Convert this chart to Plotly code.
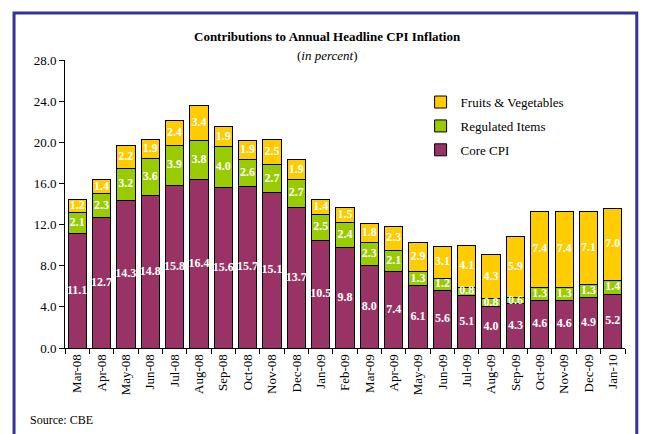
import plotly.graph_objects as go

months = ["Mar-08","Apr-08","May-08","Jun-08","Jul-08","Aug-08","Sep-08","Oct-08","Nov-08","Dec-08",
          "Jan-09","Feb-09","Mar-09","Apr-09","May-09","Jun-09","Jul-09","Aug-09","Sep-09","Oct-09",
          "Nov-09","Dec-09","Jan-10"]
core = [11.1,12.7,14.3,14.8,15.8,16.4,15.6,15.7,15.1,13.7,10.5,9.8,8.0,7.4,6.1,5.6,5.1,4.0,4.3,4.6,4.6,4.9,5.2]
regulated = [2.1,2.3,3.2,3.6,3.9,3.8,4.0,2.6,2.7,2.7,2.5,2.4,2.3,2.1,1.3,1.2,0.8,0.8,0.6,1.3,1.3,1.3,1.4]
fruits = [1.2,1.4,2.2,1.9,2.4,3.4,1.9,1.9,2.5,1.9,1.4,1.5,1.8,2.3,2.9,3.1,4.1,4.3,5.9,7.4,7.4,7.1,7.0]
y_ticks = [0, 4, 8, 12, 16, 20, 24, 28]

FONT = "Liberation Serif"
series = [("Core CPI", core, "#993366", 3),
          ("Regulated Items", regulated, "#99CC00", 2),
          ("Fruits & Vegetables", fruits, "#FFCC00", 1)]

fig = go.Figure()
base = [0.0] * len(months)
label_traces = []
for name, vals, color, rank in series:
    fig.add_trace(go.Bar(x=months, y=vals, name=name, marker_color=color, legendgroup=name,
                         legendrank=rank, marker_line_color="black", marker_line_width=1))
    mids = [b + v / 2 for b, v in zip(base, vals)]
    label_traces.append(go.Scatter(x=months, y=mids, mode="text",
                                   text=[f"{v:.1f}" for v in vals],
                                   textfont=dict(family=FONT, size=12, color="white", weight="bold"),
                                   showlegend=False, hoverinfo="skip"))
    base = [b + v for b, v in zip(base, vals)]
for t in label_traces:
    fig.add_trace(t)

fig.update_layout(
    width=645, height=434,
    margin=dict(l=65, r=20, t=60, b=86, autoexpand=False),
    barmode="stack", bargap=0.25,
    plot_bgcolor="white", paper_bgcolor="white",
    font=dict(family=FONT, size=13, color="black"),
    showlegend=True,
    legend=dict(x=0.635, y=0.906, xanchor="left", yanchor="top",
                traceorder="grouped", font=dict(family=FONT, size=13),
                bgcolor="rgba(0,0,0,0)", itemwidth=30, tracegroupgap=4),
    xaxis=dict(type="category", range=[-0.5, len(months) - 0.5], tickangle=-90,
               showline=True, linecolor="black",
               ticks="outside", ticklen=5, tickson="boundaries", tickcolor="black",
               tickfont=dict(family=FONT, size=13), showgrid=False, automargin=False),
    yaxis=dict(range=[0, 28], tickvals=y_ticks, tickformat=".1f", showline=True,
               linecolor="black", ticks="outside", ticklen=5, tickcolor="black",
               showgrid=False, zeroline=False, tickfont=dict(family=FONT, size=13),
               automargin=False),
    shapes=[dict(type="rect", xref="paper", yref="paper",
                 x0=-0.091, x1=1.021, y0=-0.4, y1=1.163,
                 line=dict(color="#333399", width=3), fillcolor="rgba(0,0,0,0)", layer="below")],
    annotations=[
        dict(text="<b>Contributions to Annual Headline CPI Inflation</b>", xref="paper", yref="paper",
             x=0.468, y=1.08, xanchor="center", yanchor="middle", showarrow=False,
             font=dict(family=FONT, size=13)),
        dict(text="(<i>in percent</i>)", xref="paper", yref="paper",
             x=0.468, y=1.017, xanchor="center", yanchor="middle", showarrow=False,
             font=dict(family=FONT, size=13)),
        dict(text="Source: CBE", xref="paper", yref="paper",
             x=-0.066, y=-0.25, xanchor="left", yanchor="middle", showarrow=False,
             font=dict(family=FONT, size=12)),
    ],
)

fig.write_html("out.html", config={"displayModeBar": False},
               post_script="document.body.style.margin='0';")
